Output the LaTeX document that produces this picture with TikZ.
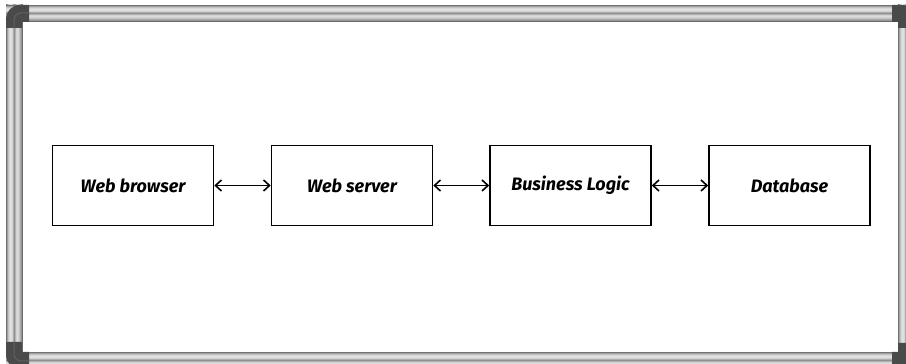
\documentclass[tikz,border=0pt]{standalone}
\usepackage{fontspec}
\setmainfont{Fira Sans}
\usetikzlibrary{arrows.meta}
\definecolor{cornergray}{HTML}{4A4A4A}
\tikzset{
	tier/.style={draw,line width=1.6pt,minimum width=161pt,minimum height=80pt,font=\bfseries\itshape\fontsize{18}{21}\selectfont,name=#1},
	link/.style={{Straight Barb[length=6pt,width=11pt]}-{Straight Barb[length=6pt,width=11pt]},line width=1.6pt},
	corner/.style={fill=cornergray},
	shine/.style={draw=black!62,line width=1pt}
}
\def\railgrays{55,38,24,16,12,13,18,32,44,30,18,14,17,24,32,42,58}
\begin{document}
\begin{tikzpicture}[x=1pt,y=1pt]
	\useasboundingbox (0,0) rectangle (906,364);
	\fill[white] (0,0) rectangle (906,364);
	% frame rails
	\foreach \g [count=\i] in \railgrays {
		\fill[black!\g] (5+\i,-6) rectangle (6+\i,360);
		\fill[black!\g] (897+\i,-6) rectangle (898+\i,360);
	}
	\foreach \g [count=\i] in \railgrays {
		\fill[black!\g] (6,360-\i) rectangle (915,359-\i);
		\fill[black!\g] (6,13-\i) rectangle (915,12-\i);
	}
	% corners
	\fill[corner] (6,336) -- (6,345) arc[start angle=180,end angle=90,radius=14] -- (29,359) -- (29,342) -- (22,342) -- (22,336) -- cycle;
	\draw[shine] (14,336) -- (14,344) arc[start angle=180,end angle=90,radius=7] -- (29,351);
	\fill[corner] (6,22) -- (6,9) arc[start angle=180,end angle=270,radius=14] -- (29,-5) -- (29,12) -- (22,12) -- (22,22) -- cycle;
	\draw[shine] (14,22) -- (14,10) arc[start angle=180,end angle=270,radius=7] -- (29,3);
	\fill[corner] (892,359) -- (901,359) arc[start angle=90,end angle=0,radius=14] -- (915,336) -- (898,336) -- (898,342) -- (892,342) -- cycle;
	\fill[corner] (892,-5) -- (892,12) -- (898,12) -- (898,21) -- (915,21) -- (915,-5) -- cycle;
	% tiers
	\node [tier=browser] at (133,178.5) {Web browser};
	\node [tier=server] at (352,178.5) {Web server};
	\node [tier=logic] at (570.5,178.5) {Business Logic};
	\node [tier=db] at (789.5,178.5) {Database};

	\draw [link] (browser) -- (server);
	\draw [link] (server) -- (logic);
	\draw [link] (logic) -- (db);
\end{tikzpicture}
\end{document}
